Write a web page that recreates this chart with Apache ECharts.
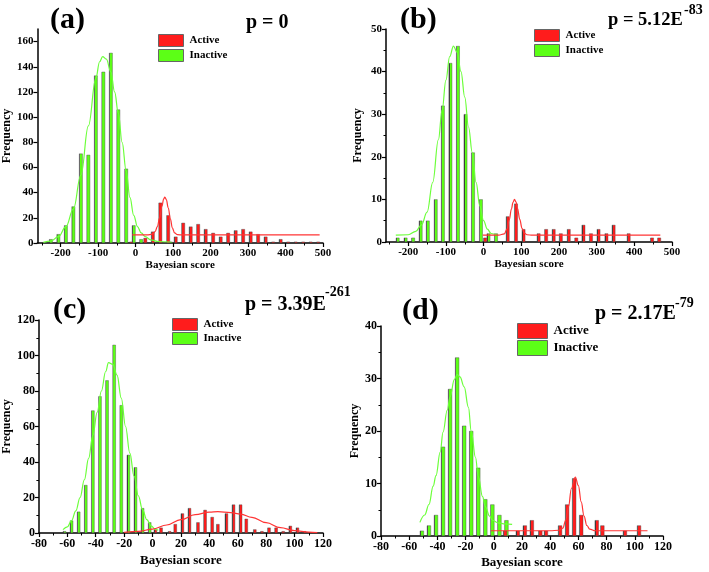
<!DOCTYPE html>
<html><head><meta charset="utf-8">
<script src="https://cdn.jsdelivr.net/npm/echarts@6/dist/echarts.min.js"></script>
<style>html,body{margin:0;padding:0;background:#fff}#c{width:709px;height:572px}</style>
</head><body><div id="c"></div>
<script>
// ---------- Panel (a) ----------
const aGreenX = [-226,-206,-186,-166,-146,-126,-106,-86,-66,-46,-25,-5,15,94];
const aGreenY = [3,7,14,29,71,70,133,136,151,106,59,14,3,1];
const aRedX = [-12,26,46,66,87,107,127,147,167,187,207,227,247,267,287,307,327,347,367,387,407,427,447,467,487];
const aRedY = [1,4,9,32,22,5,16,13,15,11,8,5,8,10,11,9,7,5,1,3,1,1,1,1,1];
const aGreenFit = [[-246,0.5],[-226,1.5],[-206,5],[-186,13],[-166,27],[-146,54],[-126,93],[-106,131],[-96,144],[-88,148],[-78,146],[-66,136],[-56,120],[-46,103],[-36,80],[-25,57],[-15,36],[-5,22],[5,13],[15,8],[26,5],[40,2.5],[60,1.2],[93,0.8]];
const aRedFit = [[-9,6.4],[30,6.4],[45,7],[52,9],[58,13],[64,20],[70,29],[75,35],[78,36.5],[82,34.5],[87,28],[93,19],[98,12],[104,8],[112,6.6],[125,6.4],[491,6.4]];
const aXTicks = [-200,-100,0,100,200,300,400,500];
const aXMinor = [-250,-150,-50,50,150,250,350,450];
const aYTicks = [0,20,40,60,80,100,120,140,160];
const aYMinor = [];

// ---------- Panel (b) ----------
const bGreenX = [-228,-207,-187,-167,-148,-127,-108,-88,-68,-48,-28,-7,13,33];
const bGreenY = [1,1,1,5,5,10,32,42,46,30,21,10,2,2];
const bRedX = [4,64,86,106,146,166,186,205,226,246,265,285,305,326,345,385,447,466];
const bRedY = [1,6,9,3,2,3,3,2,3,1,4,2,3,2,4,2,1,1];
const bGreenFit = [[-233,1.6],[-200,1.7],[-180,2.5],[-165,4],[-150,7],[-135,14],[-120,24],[-110,31],[-100,38],[-90,43.5],[-80,46],[-70,44.5],[-60,40],[-50,34],[-40,27],[-30,21],[-20,14],[-10,8.5],[0,5],[10,3],[20,2],[35,1.6]];
const bRedFit = [[-2,1.6],[40,1.6],[55,1.9],[62,3],[68,5.2],[74,7.8],[78,9.3],[82,10],[86,9.4],[90,7.9],[96,5.3],[102,3.2],[108,2.1],[115,1.7],[130,1.6],[469,1.6]];
const bXTicks = [-200,-100,0,100,200,300,400,500];
const bXMinor = [-250,-150,-50,50,150,250,350,450];
const bYTicks = [0,10,20,30,40,50];
const bYMinor = [5,15,25,35,45];

// ---------- Panel (c) ----------
const cGreenX = [-62,-57,-52,-47,-42,-37,-32,-27,-22,-17,-12,-7,-2];
const cGreenY = [1,7,12,27,69,77,86,106,72,44,37,14,6];
const cRedX = [2,6,12,16,21,26,32,37,42,46,52,57,62,66,72,77,82,87,92,97,102,107];
const cRedY = [2,3,1,5,11,14,6,13,9,5,11,16,16,8,2,1,3,3,1,4,3,1];
const cGreenFit = [[-63,1.9],[-60,3.5],[-57,7],[-54,12.5],[-51,20],[-48,30],[-45,42],[-42,55],[-39,68],[-36,80],[-33,91],[-31,96],[-28,95],[-25,89],[-22,76],[-19,60],[-16,45],[-13,32],[-10,21],[-7,13],[-4,7.5],[-1,4],[2,2],[4,1.5]];
const cRedFit = [[-20,0.3],[-10,0.9],[0,2.2],[10,4.5],[20,7.5],[30,10.3],[40,11.8],[46,12],[55,11.5],[62,10.6],[70,8.8],[80,5.8],[90,3],[100,1.3],[110,0.5],[116,0.2]];
const cXTicks = [-80,-60,-40,-20,0,20,40,60,80,100,120];
const cXMinor = [-70,-50,-30,-10,10,30,50,70,90,110];
const cYTicks = [0,20,40,60,80,100,120];
const cYMinor = [10,30,50,70,90,110];

// ---------- Panel (d) ----------
const dGreenX = [-51,-46,-41,-36,-31,-26,-21,-16,-11,-6,-1,4,9];
const dGreenY = [1,2,4,17,28,34,21,20,13,7,6,4,3];
const dRedX = [8,17,22,27,33,37,47,52,57,62,73,77,93,103];
const dRedY = [1,1,2,3,1,1,2,6,11,4,3,2,1,2];
const dGreenFit = [[-52.4,2.6],[-49,4],[-46,6],[-43,9.5],[-41,11.5],[-38,16],[-36,19.8],[-33,24],[-31,26.5],[-28,29.8],[-26,30.8],[-24,30.3],[-21,28.4],[-18,24.5],[-16,20],[-13,15],[-11,11.3],[-8,7.5],[-6,5.6],[-3,3.8],[-1,3],[3,2.5],[8,2.3],[13,2.2]];
const dRedFit = [[-2,1],[40,1],[46,1.1],[49,1.5],[51,3],[53,5.6],[55,9],[57.8,11.2],[60,9.6],[62,6.5],[64,3.8],[66,2],[68,1.3],[72,1],[109,1]];
const dXTicks = [-80,-60,-40,-20,0,20,40,60,80,100,120];
const dXMinor = [-70,-50,-30,-10,10,30,50,70,90,110];
const dYTicks = [0,10,20,30,40];
const dYMinor = [5,15,25,35];

const legendNames = ['Active','Inactive'];

// ---------- build ----------
const SERIF = '"Liberation Serif","Times New Roman",serif';
const GREEN = '#5cff16', RED = '#ff1c1c';
const GREEN_LINE = '#6cff3a', RED_LINE = '#ff3434';
function barStyle(c){
  return { color: new echarts.graphic.LinearGradient(0,0,1,0,[
    {offset:0,color:'#3c3c3c'},{offset:0.24,color:'#3c3c3c'},{offset:0.25,color:c},{offset:1,color:c}]),
    borderColor:'#444', borderWidth:0.4 };
}
function zip(xs, ys){ return xs.map((x,i)=>[x, ys[i]]); }

const panels = [
  {grid:{left:36,top:29,width:287,height:214}, xMin:-262,xMax:500,xT:aXTicks,xM:aXMinor,yMax:170,yT:aYTicks,yM:aYMinor,
   g:zip(aGreenX,aGreenY), r:zip(aRedX,aRedY), gf:aGreenFit, rf:aRedFit, bw:3.5, fs:11, nfs:11, xGap:17, yGap:22,
   leg:{left:158,top:34,w:25,h:12,gap:2,fs:11}},
  {grid:{left:386,top:29,width:286,height:213}, xMin:-259,xMax:500,xT:bXTicks,xM:bXMinor,yMax:50,yT:bYTicks,yM:bYMinor,
   g:zip(bGreenX,bGreenY), r:zip(bRedX,bRedY), gf:bGreenFit, rf:bRedFit, bw:3.5, fs:11, nfs:11, xGap:17, yGap:22,
   leg:{left:534,top:29,w:25,h:12,gap:2,fs:11}},
  {grid:{left:37,top:320,width:286,height:213}, xMin:-80,xMax:120,xT:cXTicks,xM:cXMinor,yMax:120,yT:cYTicks,yM:cYMinor,
   g:zip(cGreenX,cGreenY), r:zip(cRedX,cRedY), gf:cGreenFit, rf:cRedFit, bw:3.2, fs:12, nfs:13, xGap:21, yGap:23,
   leg:{left:172,top:318,w:25,h:12,gap:1,fs:11}},
  {grid:{left:381,top:326,width:282,height:210}, xMin:-80,xMax:120,xT:dXTicks,xM:dXMinor,yMax:40,yT:dYTicks,yM:dYMinor,
   g:zip(dGreenX,dGreenY), r:zip(dRedX,dRedY), gf:dGreenFit, rf:dRedFit, bw:4, fs:12, nfs:13, xGap:20, yGap:16,
   leg:{left:517,top:323,w:30,h:15,gap:1,fs:13}}
];

const grid=[], xAxis=[], yAxis=[], series=[], legend=[];
const axisLine = {show:true, onZero:false, lineStyle:{color:'#000', width:1.5}};
const hiddenLine = {show:false, onZero:false};
panels.forEach((p,i)=>{
  grid.push(p.grid);
  const lbl = {fontFamily:SERIF, fontWeight:'bold', fontSize:p.fs, color:'#000'};
  const xi = xAxis.length, yi = yAxis.length;
  xAxis.push({gridIndex:i, type:'value', min:p.xMin, max:p.xMax, position:'bottom', axisLine,
    axisTick:{show:true, length:4, customValues:p.xT, lineStyle:{color:'#000',width:1.2}},
    axisLabel:{show:true, customValues:p.xT, margin:5, ...lbl},
    splitLine:{show:false}, name:'Bayesian score', nameLocation:'middle', nameGap:p.xGap,
    nameTextStyle:{fontFamily:SERIF, fontWeight:'bold', fontSize:p.nfs, color:'#000'}});
  xAxis.push({gridIndex:i, type:'value', min:p.xMin, max:p.xMax, position:'bottom', axisLine:hiddenLine,
    axisTick:{show:true, length:2.5, customValues:p.xM, lineStyle:{color:'#000',width:1}},
    axisLabel:{show:false}, splitLine:{show:false}});
  yAxis.push({gridIndex:i, type:'value', min:0, max:p.yMax, position:'left', axisLine,
    axisTick:{show:true, length:4, customValues:p.yT, lineStyle:{color:'#000',width:1.2}},
    axisLabel:{show:true, customValues:p.yT, margin:4, ...lbl},
    splitLine:{show:false}, name:'Frequency', nameLocation:'middle', nameGap:p.yGap,
    nameTextStyle:{fontFamily:SERIF, fontWeight:'bold', fontSize:12, color:'#000'}});
  yAxis.push({gridIndex:i, type:'value', min:0, max:p.yMax, position:'left', axisLine:hiddenLine,
    axisTick:{show:p.yM.length>0, length:2.5, customValues:p.yM.length?p.yM:[0], lineStyle:{color:'#000',width:1}},
    axisLabel:{show:false}, splitLine:{show:false}});
  series.push({type:'bar', name:'Inactive', xAxisIndex:xi, yAxisIndex:yi, data:p.g, barWidth:p.bw, barGap:'-100%',
    itemStyle:barStyle(GREEN), silent:true, z:2});
  series.push({type:'bar', name:'Active', xAxisIndex:xi, yAxisIndex:yi, data:p.r, barWidth:p.bw, barGap:'-100%',
    itemStyle:barStyle(RED), silent:true, z:2});
  series.push({type:'line', name:'Inactive fit', xAxisIndex:xi, yAxisIndex:yi, data:p.gf, showSymbol:false, smooth:0.4,
    smoothMonotone:'x', lineStyle:{color:GREEN_LINE, width:1.2}, itemStyle:{color:GREEN_LINE}, silent:true, z:3});
  series.push({type:'line', name:'Active fit', xAxisIndex:xi, yAxisIndex:yi, data:p.rf, showSymbol:false, smooth:0.4,
    smoothMonotone:'x', lineStyle:{color:RED_LINE, width:1.2}, itemStyle:{color:RED_LINE}, silent:true, z:3});
  legend.push({left:p.leg.left, top:p.leg.top, orient:'vertical', padding:0, itemWidth:p.leg.w, itemHeight:p.leg.h,
    itemGap:p.leg.gap, icon:'rect', selectedMode:false,
    data:[{name:legendNames[0], itemStyle:{color:RED, borderColor:'#666', borderWidth:1}},
          {name:legendNames[1], itemStyle:{color:GREEN, borderColor:'#666', borderWidth:1}}],
    textStyle:{fontFamily:SERIF, fontWeight:'bold', fontSize:p.leg.fs, color:'#000', padding:[0,0,0,1]}});
});

function txt(x,y,t,fs){ return {type:'text', x:x, y:y, style:{text:t, fill:'#000', font:'bold '+fs+'px '+SERIF, verticalAlign:'middle', align:'left'}}; }
const graphic = [
  txt(50,20,'(a)',30), txt(246,23,'p = 0',20),
  txt(400,20,'(b)',30), txt(608,20,'p = 5.12E',18.5), txt(684,10,'-83',14),
  txt(53,310,'(c)',30), txt(245,305,'p = 3.39E',20), txt(325,292,'-261',14),
  txt(402,311,'(d)',30), txt(595,314,'p = 2.17E',20), txt(675,303,'-79',14)
];

const chart = echarts.init(document.getElementById('c'), null, {renderer:'canvas'});
chart.setOption({animation:false, backgroundColor:'#fff', grid, xAxis, yAxis, series, legend, graphic});
</script></body></html>
